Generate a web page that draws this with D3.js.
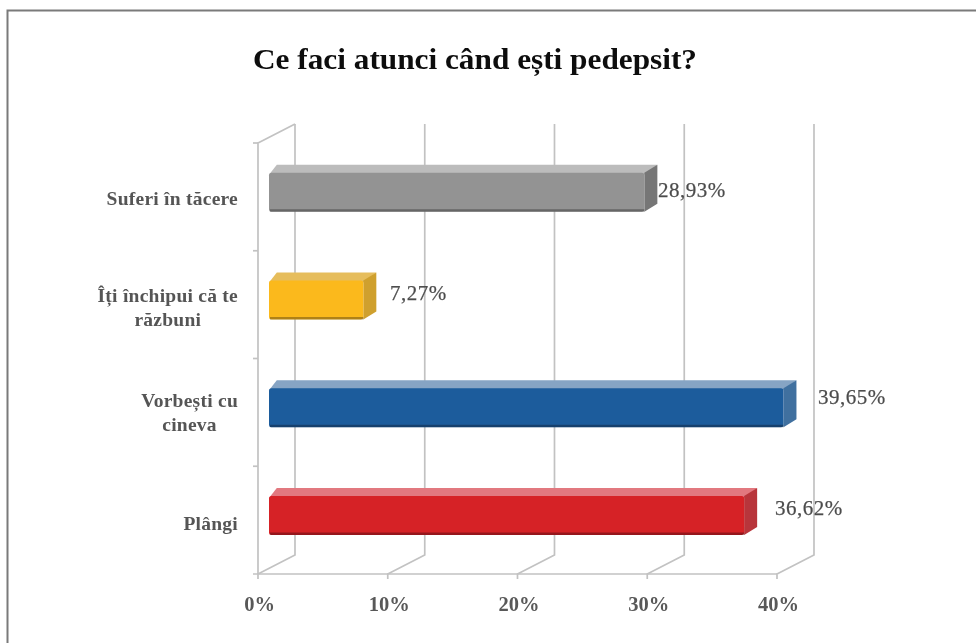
<!DOCTYPE html>
<html><head><meta charset="utf-8">
<script src="https://cdn.jsdelivr.net/npm/d3@7"></script>
<style>html,body{margin:0;background:#fff}svg{display:block}text{font-family:"Liberation Serif",serif}</style>
</head><body><svg id="c" width="976" height="643"></svg>
<script>
const title = "Ce faci atunci când ești pedepsit?";
const categories = [["Suferi în tăcere"],["Îți închipui că te","răzbuni"],["Vorbești cu","cineva"],["Plângi"]];
const values = [28.93, 7.27, 39.65, 36.62];
const valueLabels = ["28,93%","7,27%","39,65%","36,62%"];
const colors = ["#939393","#fbb91f","#1d5c9c","#d62128"];
const sideColors = ["#767676","#cfa02e","#41709f","#b8353a"];
const topColors = ["#bcbcbc","#e6bd5c","#86a4c4","#e2787f"];
const ticks = [0,10,20,30,40];

const svg = d3.select("#c");
const W=976,H=643;
const defs = svg.append("defs");
const soft = defs.append("filter").attr("id","soft").attr("filterUnits","userSpaceOnUse").attr("x",0).attr("y",0).attr("width",W).attr("height",H);
soft.append("feGaussianBlur").attr("stdDeviation",0.7);

const x = d3.scaleLinear().domain([0,40]).range([258,777]);
const y = d3.scaleBand().domain(d3.range(categories.length)).range([143,574]);
const depth = {dx:37, dy:-19};
const inset = {dx:11, dy:-6};
const barD = {dx:13, dy:-8};
const barH = 39;

// frame
svg.append("path").attr("d",`M7.5,${H} V10.5 H${W}`).attr("fill","none").attr("stroke","#7a7a7a").attr("stroke-width",2);

const g = svg.append("g").attr("filter","url(#soft)");
const grid = "#c2c2c2";
const lines = g.append("g").attr("fill","none").attr("stroke",grid).attr("stroke-width",1.7);
lines.append("path").attr("d",`M${x(0)},${y.range()[1]} V${y.range()[0]} L${x(0)+depth.dx},${y.range()[0]+depth.dy}`);
ticks.forEach(t=>{
  lines.append("path").attr("d",`M${x(t)},${574+5} L${x(t)},574 L${x(t)+depth.dx},${574+depth.dy} V${143+depth.dy}`);
});
lines.append("path").attr("d",`M${x(0)-5},574 H${x(40)}`);
[0,1,2,3].forEach(i=>lines.append("path").attr("d",`M${x(0)-5},${y(i)} H${x(0)}`));

// bars
const bars = g.append("g").selectAll("g").data(values).join("g");
const fx0 = x(0)+inset.dx;
const fx1 = d=>x(d)+inset.dx;
const top_ = i=>y(i)+y.bandwidth()+inset.dy-barH-33;
bars.append("path").attr("fill",(d,i)=>topColors[i]).attr("d",(d,i)=>{
  const t=top_(i);
  return `M${fx0},${t+2} L${fx0+barD.dx*.6},${t+barD.dy} H${fx1(d)+barD.dx} L${fx1(d)},${t+2} Z`;
});
bars.append("path").attr("fill",(d,i)=>sideColors[i]).attr("d",(d,i)=>{
  const t=top_(i);
  return `M${fx1(d)},${t} L${fx1(d)+barD.dx},${t+barD.dy} V${t+barH+barD.dy} L${fx1(d)},${t+barH} Z`;
});
bars.append("rect").attr("x",fx0).attr("y",(d,i)=>top_(i)).attr("width",d=>fx1(d)-fx0).attr("height",barH).attr("rx",2.5).attr("fill",(d,i)=>colors[i]);
bars.append("rect").attr("x",fx0+1).attr("y",(d,i)=>top_(i)+barH-2.5).attr("width",d=>fx1(d)-fx0-1).attr("height",2.5).attr("fill","#000").attr("opacity",.3);

// value labels
const labelX=[658,390,818,775], labelBase=[197,300,404,515];
g.append("g").selectAll("text").data(values).join("text")
 .attr("x",(d,i)=>labelX[i]).attr("y",(d,i)=>labelBase[i])
 .attr("font-size",21).attr("letter-spacing",.5).attr("stroke","#555").attr("stroke-width",.25).attr("fill","#4c4c4c").text((d,i)=>valueLabels[i]);

// axis labels
g.append("g").selectAll("text").data(ticks).join("text")
 .attr("x",d=>x(d)+1.5).attr("y",611).attr("text-anchor","middle").attr("font-size",20.5).attr("font-weight","bold").attr("fill","#595959").text(d=>d+"%");

// category labels: each block centred, blocks right-aligned at the axis
const catRight = 238, catBase=[205,302,407,530];
g.append("g").selectAll("text").data(categories).join("text")
 .attr("text-anchor","middle").attr("font-size",19.5).attr("letter-spacing",.25).attr("font-weight","bold").attr("fill","#555")
 .each(function(d,i){
  const t=d3.select(this);
  const sp=d.map((s,j)=>t.append("tspan").attr("y",catBase[i]+j*24).text(s));
  const w=d3.max(sp,s=>s.node().getComputedTextLength());
  sp.forEach(s=>s.attr("x",catRight-w/2));
 });

// title
g.append("text").attr("x",475).attr("y",69).attr("text-anchor","middle").attr("font-size",30).attr("textLength",444).attr("lengthAdjust","spacingAndGlyphs").attr("font-weight","bold").attr("fill","#111").text(title);
</script></body></html>
